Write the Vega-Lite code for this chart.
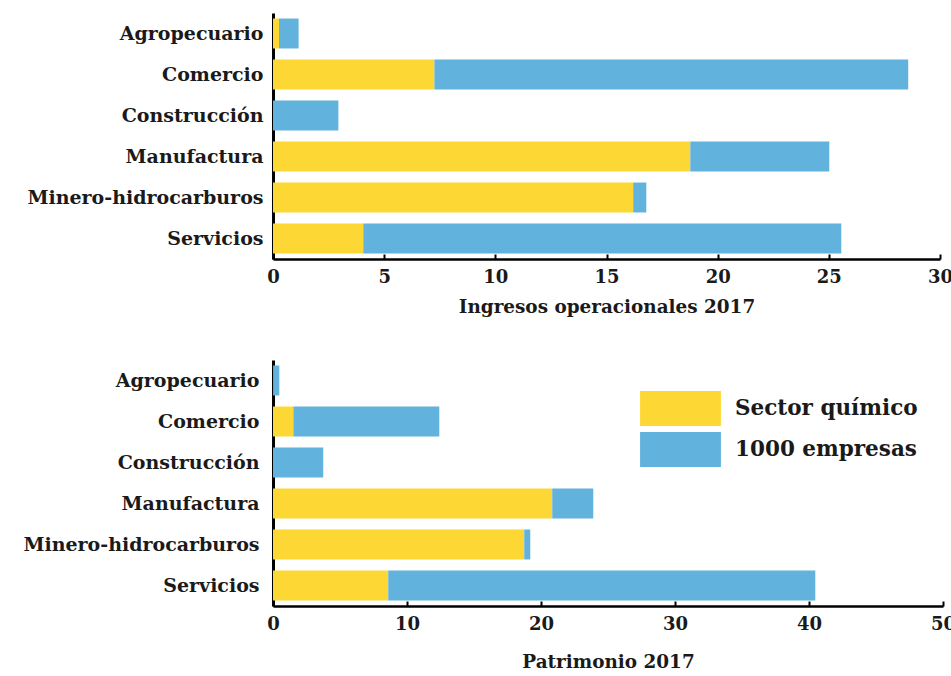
{
  "$schema": "https://vega.github.io/schema/vega-lite/v6.json",
  "padding": {"top": 13, "left": 22, "right": 0, "bottom": 0},
  "background": "white",
  "datasets": {
    "ingresos": [
      {"sector": "Agropecuario", "serie": "Sector químico", "valor": 0.27},
      {"sector": "Agropecuario", "serie": "1000 empresas", "valor": 0.88},
      {"sector": "Comercio", "serie": "Sector químico", "valor": 7.26},
      {"sector": "Comercio", "serie": "1000 empresas", "valor": 21.31},
      {"sector": "Construcción", "serie": "Sector químico", "valor": 0.0},
      {"sector": "Construcción", "serie": "1000 empresas", "valor": 2.94},
      {"sector": "Manufactura", "serie": "Sector químico", "valor": 18.77},
      {"sector": "Manufactura", "serie": "1000 empresas", "valor": 6.25},
      {"sector": "Minero-hidrocarburos", "serie": "Sector químico", "valor": 16.2},
      {"sector": "Minero-hidrocarburos", "serie": "1000 empresas", "valor": 0.59},
      {"sector": "Servicios", "serie": "Sector químico", "valor": 4.06},
      {"sector": "Servicios", "serie": "1000 empresas", "valor": 21.5}
    ],
    "patrimonio": [
      {"sector": "Agropecuario", "serie": "Sector químico", "valor": 0.05},
      {"sector": "Agropecuario", "serie": "1000 empresas", "valor": 0.42},
      {"sector": "Comercio", "serie": "Sector químico", "valor": 1.52},
      {"sector": "Comercio", "serie": "1000 empresas", "valor": 10.89},
      {"sector": "Construcción", "serie": "Sector químico", "valor": 0.0},
      {"sector": "Construcción", "serie": "1000 empresas", "valor": 3.75},
      {"sector": "Manufactura", "serie": "Sector químico", "valor": 20.84},
      {"sector": "Manufactura", "serie": "1000 empresas", "valor": 3.06},
      {"sector": "Minero-hidrocarburos", "serie": "Sector químico", "valor": 18.75},
      {"sector": "Minero-hidrocarburos", "serie": "1000 empresas", "valor": 0.45},
      {"sector": "Servicios", "serie": "Sector químico", "valor": 8.6},
      {"sector": "Servicios", "serie": "1000 empresas", "valor": 31.87}
    ]
  },
  "config": {
    "font": "DejaVu Serif",
    "view": {"stroke": null},
    "axis": {
      "labelFont": "DejaVu Serif",
      "labelFontWeight": "bold",
      "labelColor": "#1a1a1a",
      "titleFont": "DejaVu Serif",
      "titleFontWeight": "bold",
      "titleColor": "#1a1a1a",
      "domainColor": "#000000",
      "tickColor": "#000000",
      "grid": false
    },
    "legend": {"labelFont": "DejaVu Serif", "labelFontWeight": "bold", "labelColor": "#1a1a1a"}
  },
  "spacing": 44,
  "resolve": {"legend": {"color": "independent"}},
  "vconcat": [
    {
      "data": {"name": "ingresos"},
      "width": 667,
      "height": 246,
      "mark": {"type": "bar"},
      "encoding": {
        "y": {
          "field": "sector", "type": "nominal",
          "sort": ["Agropecuario", "Comercio", "Construcción", "Manufactura", "Minero-hidrocarburos", "Servicios"],
          "scale": {"paddingInner": 0.27, "paddingOuter": 0.135},
          "axis": {"title": null, "ticks": false, "domainWidth": 3, "labelFontSize": 19, "labelPadding": 10, "labelLimit": 0}
        },
        "x": {
          "field": "valor", "type": "quantitative", "stack": "zero",
          "scale": {"domain": [0, 30], "nice": false},
          "axis": {"title": "Ingresos operacionales 2017", "values": [0, 5, 10, 15, 20, 25, 30], "tickSize": -5, "tickWidth": 2, "domainWidth": 2.5, "labelFontSize": 18, "labelPadding": 14, "titleFontSize": 18.4, "titlePadding": 11, "labelFlush": false, "labelOverlap": false}
        },
        "color": {
          "field": "serie", "type": "nominal",
          "scale": {"domain": ["Sector químico", "1000 empresas"], "range": ["#FDD835", "#61B2DC"]},
          "legend": null
        },
        "order": {"field": "serie", "sort": "descending"}
      }
    },
    {
      "data": {"name": "patrimonio"},
      "width": 670,
      "height": 246,
      "mark": {"type": "bar"},
      "encoding": {
        "y": {
          "field": "sector", "type": "nominal",
          "sort": ["Agropecuario", "Comercio", "Construcción", "Manufactura", "Minero-hidrocarburos", "Servicios"],
          "scale": {"paddingInner": 0.27, "paddingOuter": 0.135},
          "axis": {"title": null, "ticks": false, "domainWidth": 3, "labelFontSize": 19, "labelPadding": 14, "labelLimit": 0}
        },
        "x": {
          "field": "valor", "type": "quantitative", "stack": "zero",
          "scale": {"domain": [0, 50], "nice": false},
          "axis": {"title": "Patrimonio 2017", "values": [0, 10, 20, 30, 40, 50], "tickSize": -5, "tickWidth": 2, "domainWidth": 2.5, "labelFontSize": 18, "labelPadding": 14, "titleFontSize": 18.4, "titlePadding": 19, "labelFlush": false, "labelOverlap": false}
        },
        "color": {
          "field": "serie", "type": "nominal",
          "scale": {"domain": ["Sector químico", "1000 empresas"], "range": ["#FDD835", "#61B2DC"]},
          "legend": {
            "title": null, "orient": "none", "legendX": 390, "legendY": 31,
            "symbolType": "M-2.31,-1H2.31V1H-2.31Z", "symbolSize": 1225, "symbolStrokeWidth": 0,
            "symbolOpacity": 1, "labelLimit": 0,
            "labelFontSize": 21.5, "labelOffset": 37, "rowPadding": 6
          }
        },
        "order": {"field": "serie", "sort": "descending"}
      }
    }
  ]
}
